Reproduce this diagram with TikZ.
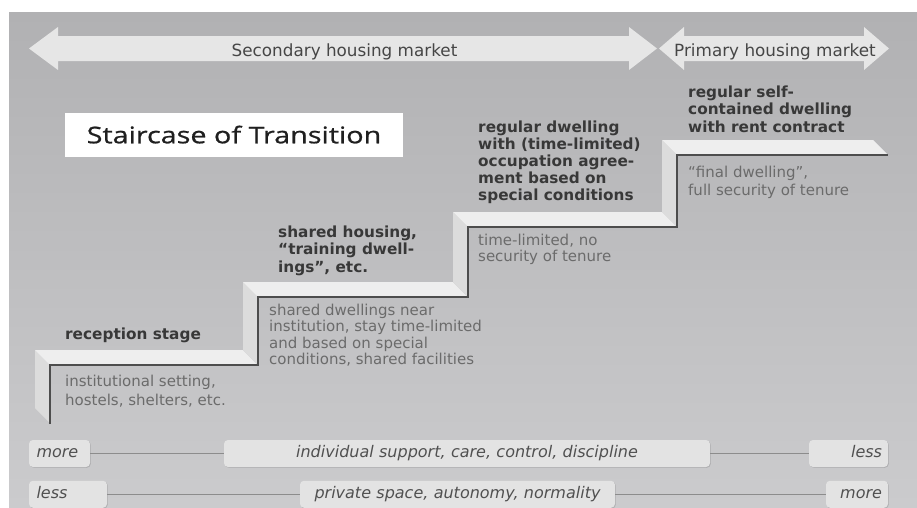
\documentclass[tikz,border=0pt]{standalone}
\usepackage{fontspec}
\setmainfont{DejaVu Sans}
\newfontfamily\titlefont[FakeStretch=1.25,FakeBold=0.8]{Open Sans}
\usetikzlibrary{shadows}
\definecolor{bgtop}{HTML}{B1B1B3}
\definecolor{bgbot}{HTML}{CBCBCD}
\definecolor{arrowfill}{HTML}{E6E6E6}
\definecolor{topfacecol}{HTML}{EEEEEE}
\definecolor{sidefacecol}{HTML}{DCDCDC}
\definecolor{edgecol}{HTML}{4D4D4D}
\definecolor{boldtext}{HTML}{383838}
\definecolor{greytext}{HTML}{6B6B6B}
\definecolor{bartext}{HTML}{505050}
\definecolor{barfill}{HTML}{E3E3E3}
\definecolor{barline}{HTML}{8C8C8C}
\definecolor{markettext}{HTML}{464646}
\begin{document}
\begin{tikzpicture}[x=1pt,y=-1pt,
  marketarrow/.style={fill=arrowfill,draw=none},
  marketlabel/.style={font=\fontsize{16.8pt}{20pt}\selectfont,text=markettext,anchor=base,inner sep=0pt},
  steptitle/.style={font=\bfseries\fontsize{15.3pt}{#1}\selectfont,text=boldtext,align=left,anchor=north west,inner sep=0pt},
  stepnote/.style={font=\fontsize{15pt}{#1}\selectfont,text=greytext,align=left,anchor=north west,inner sep=0pt},
  topface/.style={fill=topfacecol,draw=none},
  riserface/.style={fill=sidefacecol,draw=none},
  edgeline/.style={draw=edgecol,line width=1.6pt,line join=miter},
  barbox/.style={fill=barfill,rounded corners=4pt,draw=none,minimum height=27pt,
    font=\itshape\fontsize{16pt}{18pt}\selectfont,text=bartext,
    text height=12pt,text depth=3.5pt,
    drop shadow={shadow xshift=0.8pt,shadow yshift=-0.8pt,fill=black,opacity=0.12}},
  barconn/.style={draw=barline,line width=1.2pt}
]
\clip (0,0) rectangle (917,507);
% background
\fill[white] (0,0) rectangle (917,507);
\shade[top color=bgtop,bottom color=bgbot] (9,12) rectangle (917,507);

% market arrows
\fill[marketarrow] (29,48.5) -- (58,27) -- (58,36) -- (629,36) -- (629,27) -- (657,48.5)
  -- (629,70) -- (629,61) -- (58,61) -- (58,70) -- cycle;
\fill[marketarrow] (659,48.5) -- (684,27) -- (684,36) -- (864,36) -- (864,27) -- (889,48.5)
  -- (864,70) -- (864,61) -- (684,61) -- (684,70) -- cycle;
\node[marketlabel] (secondary) at (344.5,56.5) {Secondary housing market};
\node[marketlabel] (primary) at (775,56.5) {Primary housing market};

% title box
\fill[white] (65,113) rectangle (403,157);
\node[anchor=base,inner sep=0pt,font=\titlefont\fontsize{23pt}{26pt}\selectfont,text=black!88] (title) at (234,143.3) {Staircase of Transition};

% staircase faces
\fill[riserface] (35,350) -- (50,365) -- (50,423) -- (35,408) -- cycle;
\fill[topface] (35,350) -- (243,350) -- (258,365) -- (50,365) -- cycle;
\fill[riserface] (243,282) -- (258,297) -- (258,365) -- (243,350) -- cycle;
\fill[topface] (243,282) -- (453,282) -- (468,297) -- (258,297) -- cycle;
\fill[riserface] (453,212) -- (468,227) -- (468,297) -- (453,282) -- cycle;
\fill[topface] (453,212) -- (662,212) -- (677,227) -- (468,227) -- cycle;
\fill[riserface] (662,140) -- (677,155) -- (677,227) -- (662,212) -- cycle;
\fill[topface] (662,140) -- (873,140) -- (888,155) -- (677,155) -- cycle;
\draw[edgeline] (50,424) -- (50,365) -- (258,365) -- (258,297) -- (468,297) -- (468,227)
  -- (677,227) -- (677,155) -- (888,155);

% step texts
\node[steptitle=17pt] (s1t) at (65,326) {\rule{0pt}{13pt}reception stage};
\node[stepnote=19pt] (s1n) at (65,373) {\rule{0pt}{13pt}institutional setting,\\hostels, shelters, etc.};
\node[steptitle=17.5pt] (s2t) at (278,224) {\rule{0pt}{13pt}shared housing,\\“training dwell-\\ings”, etc.};
\node[stepnote=16.4pt] (s2n) at (269,302) {\rule{0pt}{13pt}shared dwellings near\\institution, stay time-limited\\and based on special\\conditions, shared facilities};
\node[steptitle=17pt] (s3t) at (478,119) {\rule{0pt}{13pt}regular dwelling\\with (time-limited)\\occupation agree-\\ment based on\\special conditions};
\node[stepnote=16pt] (s3n) at (478,232) {\rule{0pt}{13pt}time-limited, no\\security of tenure};
\node[steptitle=17.5pt] (s4t) at (688,84) {\rule{0pt}{13pt}regular self-\\contained dwelling\\with rent contract};
\node[stepnote=18pt] (s4n) at (688,164) {\rule{0pt}{13pt}“final dwelling”,\\full security of tenure};

% bottom bars
\node[barbox,minimum width=61pt,text width=46pt,inner xsep=7.5pt,align=left] (more1) at (59.5,453.5) {more};
\node[barbox,minimum width=486pt,text width=470pt,inner xsep=8pt,align=center] (mid1) at (467,453.5) {individual support, care, control, discipline};
\node[barbox,minimum width=79pt,text width=67pt,inner xsep=6pt,align=right] (less1) at (848.5,453.5) {less};
\draw[barconn] (more1) -- (mid1);
\draw[barconn] (mid1) -- (less1);

\node[barbox,minimum width=78pt,text width=63pt,inner xsep=7.5pt,align=left] (less2) at (68,494.25) {less};
\node[barbox,minimum width=315pt,text width=299pt,inner xsep=8pt,align=center] (mid2) at (457.5,494.25) {private space, autonomy, normality};
\node[barbox,minimum width=62pt,text width=50pt,inner xsep=6pt,align=right] (more2) at (857,494.25) {more};
\draw[barconn] (less2) -- (mid2);
\draw[barconn] (mid2) -- (more2);
\end{tikzpicture}
\end{document}
